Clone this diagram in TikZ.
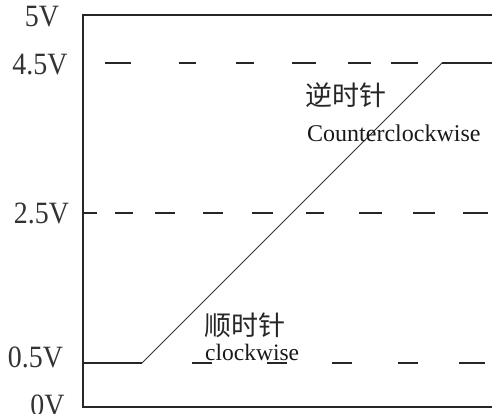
\documentclass[tikz,border=0pt]{standalone}
\usepackage{fontspec}
\setmainfont{Liberation Serif}
\newfontfamily\cjk{Noto Sans CJK SC}
\newfontfamily\lblfont[FakeStretch=0.9]{Liberation Serif}
\begin{document}
\begin{tikzpicture}[x=1pt,y=-1pt,
  frameline/.style={draw=black!85,line width=2pt},
  dashline/.style={draw=black!85,line width=2pt},
  rampline/.style={draw=black!80,line width=0.8pt},
  vlabel/.style={inner sep=0pt,anchor=center,font=\lblfont\fontsize{31}{31}\selectfont,text=black!80},
  cnlabel/.style={inner sep=0pt,anchor=center,font=\cjk\fontsize{27}{27}\selectfont,text=black!85},
  enlabel/.style={inner sep=0pt,anchor=base west,text=black!90}]
\useasboundingbox (0,0) rectangle (492,414);
% frame
\coordinate (tl) at (83,15);
\coordinate (tr) at (492,15);
\coordinate (bl) at (83,407);
\coordinate (br) at (492,407);
\draw[frameline] (tr) -- (tl) -- (bl) -- (br);
% waveform
\coordinate (w0) at (83,363);
\coordinate (w1) at (142,363);
\coordinate (w2) at (442,63);
\coordinate (w3) at (492,63);
\draw[rampline] (w1) -- (w2);
\draw[dashline] (w0) -- (w1);
\draw[dashline] (w2) -- (w3);
% 4.5V dashes
\foreach \a/\b in {105/131,179/196,236/254,292/316,348/371,391/418}
  \draw[dashline] (\a,63) -- (\b,63);
% 2.5V dashes
\foreach \a/\b in {83/97,115/133,155/175,203/223,252/273,306/324,359/382,413/435,463/488}
  \draw[dashline] (\a,213) -- (\b,213);
% 0.5V dashes
\foreach \a/\b in {192/212,267/287,332/352,398/418,459/485}
  \draw[dashline] (\a,363) -- (\b,363);
% labels
\node[vlabel] (l5) at (42,16.5) {5V};
\node[vlabel] (l45) at (40,65) {4.5V};
\node[vlabel] (l25) at (41.5,213.5) {2.5V};
\node[vlabel] (l05) at (35.5,357) {0.5V};
\node[vlabel] (l0) at (47.5,405) {0V};
\node[cnlabel] (ccw) at (346,95) {逆时针};
\node[enlabel,font=\fontsize{24}{24}\selectfont] (ccwen) at (307,142) {Counterclockwise};
\node[cnlabel] (cw) at (245,325) {顺时针};
\node[enlabel,font=\fontsize{23.5}{23.5}\selectfont] (cwen) at (205,360) {clockwise};
\end{tikzpicture}
\end{document}
